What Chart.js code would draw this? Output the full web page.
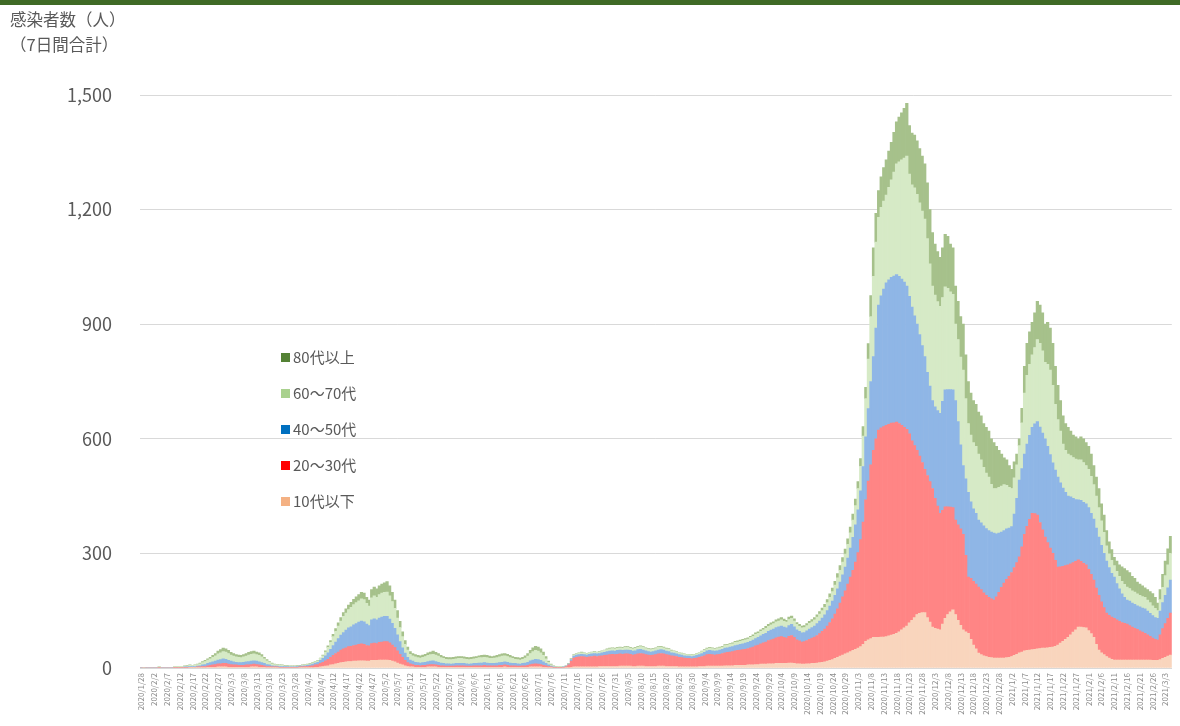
<!DOCTYPE html>
<html lang="ja">
<head>
<meta charset="utf-8">
<script src="https://cdn.jsdelivr.net/npm/chart.js@4.4.1/dist/chart.umd.min.js"></script>
<style>
    html, body { margin: 0; padding: 0; background: #fff; }
    #wrap { position: relative; width: 1180px; height: 726px; overflow: hidden; font-family: "Noto Sans CJK JP", sans-serif; }
    #topbar { position: absolute; left: 0; top: 0; width: 1180px; height: 5px; background: #3f6a26; }
    #ytitle { position: absolute; left: 10px; top: 7px; font-size: 16.5px; line-height: 25px; color: #595959; }
    #legend { position: absolute; left: 281px; top: 345px; font-size: 15px; color: #595959; }
    #legend div { height: 36px; line-height: 24px; white-space: nowrap; }
    #legend span { display: inline-block; width: 9px; height: 9px; margin-right: 3px; vertical-align: middle; position: relative; top: -1px; }
    canvas { position: absolute; left: 0; top: 0; }
</style>
</head>
<body>
<div id="wrap">
    <canvas id="ageChart" width="1180" height="726"></canvas>
    <div id="topbar"></div>
    <div id="ytitle">感染者数（人）<br>（7日間合計）</div>
    <div id="legend"></div>
</div>
<script>
// 7-day totals by age group, one value per day from 2020/1/28

var age10 = [
    0,0,0,0,0,0,0,0,0,0,
    0,0,0,0,0,0,0,0,0,1,
    1,1,1,1,1,1,2,2,2,2,
    3,3,3,3,2,2,2,2,2,2,
    2,2,2,3,3,3,2,2,2,1,
    1,1,1,1,0,0,0,0,0,0,
    0,0,1,1,1,1,1,1,2,2,
    3,4,5,6,8,9,11,12,14,15,
    16,17,17,18,18,19,19,19,18,18,
    20,20,20,21,21,21,21,20,18,16,
    13,10,8,6,4,3,3,2,2,2,
    2,2,3,3,3,3,2,2,2,2,
    2,2,2,2,2,2,2,2,2,2,
    2,2,2,2,2,2,2,2,2,2,
    2,2,3,2,2,2,2,2,2,2,
    2,2,3,3,3,3,3,2,2,1,
    1,0,0,0,0,0,1,1,2,3,
    3,3,3,3,3,3,3,3,3,4,
    4,4,4,4,4,4,4,5,5,5,
    5,5,4,4,5,5,5,4,4,4,
    4,4,5,5,5,4,4,4,4,4,
    3,3,3,3,3,3,3,3,4,4,
    4,5,5,5,5,5,5,5,6,6,
    6,6,7,7,7,7,7,8,8,8,
    9,9,10,10,10,11,11,11,12,12,
    12,12,12,13,13,12,11,11,10,10,
    11,11,12,12,13,14,15,16,18,20,
    22,25,28,31,34,37,40,43,46,49,
    52,56,62,70,74,77,80,80,80,81,
    81,82,84,86,88,91,95,100,105,110,
    118,125,132,140,143,145,145,132,120,107,
    104,102,100,115,130,140,147,152,140,125,
    112,100,95,91,75,60,50,39,35,32,
    30,28,27,26,26,26,26,26,27,28,
    30,33,36,40,42,45,46,47,48,49,
    50,51,52,52,53,54,55,57,60,65,
    70,75,80,87,94,100,107,107,106,105,
    98,90,80,62,47,40,35,30,26,23,
    21,21,21,21,21,21,21,21,21,21,
    21,21,21,21,21,20,20,20,22,25,
    28,31,34
];

var age20_30 = [
    0,0,0,0,0,0,0,1,0,0,
    0,0,0,1,1,1,1,1,1,1,
    1,1,2,2,3,3,4,5,6,7,
    8,8,9,9,8,7,6,6,5,5,
    5,6,6,6,7,6,6,5,4,3,
    3,2,2,2,2,2,2,2,2,2,
    2,2,2,2,3,3,4,5,6,7,
    9,11,14,17,20,24,27,30,33,35,
    37,39,40,41,42,43,44,43,41,40,
    44,45,44,46,47,48,48,46,42,38,
    32,26,20,14,10,8,6,5,5,4,
    5,5,5,6,6,5,5,4,4,3,
    3,3,3,4,4,4,4,3,3,3,
    4,4,4,4,5,4,4,4,4,4,
    5,5,5,5,4,4,4,3,3,4,
    4,5,6,7,8,7,6,5,4,3,
    2,1,1,1,1,2,3,7,16,23,
    25,26,27,26,25,26,27,28,27,27,
    28,29,30,31,32,31,32,32,31,32,
    32,31,30,31,32,33,32,31,30,29,
    30,31,32,33,32,31,30,28,27,26,
    25,24,23,22,22,21,22,23,24,26,
    28,30,31,30,29,30,31,33,34,35,
    36,37,38,39,40,41,42,43,45,47,
    49,51,53,56,58,61,63,65,67,69,
    70,68,66,70,72,68,63,60,58,59,
    61,64,66,69,72,76,81,86,92,99,
    107,116,127,139,152,165,180,195,210,228,
    250,280,320,370,415,455,490,520,543,548,
    551,553,554,555,554,553,545,535,525,515,
    495,470,450,430,412,393,375,372,368,363,
    340,322,305,298,292,282,274,268,247,250,
    252,250,200,147,160,167,170,173,170,165,
    160,157,154,152,160,172,185,196,205,212,
    220,230,240,251,275,305,325,342,357,355,
    350,330,310,291,275,260,245,225,204,200,
    196,193,190,186,182,179,176,172,168,165,
    160,155,150,147,143,133,123,114,112,110,
    109,105,101,98,96,94,90,86,83,80,
    76,73,70,66,62,58,55,53,65,78,
    88,99,110
];

var age40_50 = [
    1,0,1,1,1,1,1,1,1,1,
    1,1,1,1,1,1,1,2,2,2,
    2,2,2,3,4,5,6,7,8,9,
    10,11,12,11,10,9,8,7,7,7,
    8,8,9,9,9,9,8,7,6,5,
    4,3,2,2,2,2,2,2,1,1,
    1,2,2,2,2,3,3,4,5,6,
    8,10,13,17,21,26,30,35,39,43,
    46,49,51,54,56,58,60,59,56,53,
    62,64,62,64,65,66,66,62,57,50,
    42,33,25,19,14,10,9,8,7,7,
    7,8,9,9,10,9,8,7,6,6,
    6,5,6,6,6,6,6,6,5,6,
    6,6,7,7,7,7,6,6,6,7,
    7,8,8,8,7,6,6,6,5,6,
    7,8,10,11,12,12,11,9,6,4,
    2,2,1,1,1,1,1,2,4,5,
    6,6,6,6,6,7,7,7,7,7,
    8,8,9,9,9,9,10,10,10,10,
    10,10,10,10,11,11,10,10,9,9,
    9,10,10,10,10,9,9,8,8,7,
    7,7,6,6,6,6,6,7,7,8,
    9,10,10,10,10,10,11,11,12,12,
    13,13,14,14,15,15,16,16,17,18,
    19,20,21,22,23,24,25,26,27,27,
    28,27,27,28,29,28,26,25,24,24,
    25,27,28,29,31,33,35,37,40,43,
    46,49,52,55,58,62,68,76,86,98,
    112,128,145,165,190,218,245,290,327,345,
    360,373,378,382,384,386,385,383,380,375,
    360,350,340,330,318,306,295,270,250,230,
    240,250,262,285,306,307,308,308,313,270,
    220,180,200,222,200,190,185,175,175,175,
    175,175,175,175,165,155,145,138,132,126,
    120,140,168,201,205,210,215,220,225,235,
    245,250,253,257,252,245,237,236,236,220,
    205,192,180,175,168,162,157,160,160,160,
    162,160,160,157,153,148,142,136,125,115,
    108,95,85,75,68,63,64,63,63,62,
    63,63,64,62,60,59,57,57,62,68,
    74,80,86
];

var age60_70 = [
    0,1,0,1,1,1,1,1,1,1,
    1,1,1,1,1,2,2,2,3,3,
    2,3,4,5,6,8,9,10,12,14,
    16,18,19,19,18,16,15,14,14,13,
    14,15,17,18,18,17,17,15,12,10,
    7,5,4,3,3,3,2,2,2,2,
    2,2,1,2,2,2,3,3,3,4,
    5,7,10,14,18,23,28,33,37,42,
    45,48,51,53,55,56,58,58,54,51,
    58,60,59,61,63,63,64,61,57,52,
    44,37,29,23,19,15,14,14,13,13,
    14,15,16,17,17,17,16,14,13,12,
    11,12,12,12,13,13,12,12,12,12,
    12,13,14,14,14,14,13,13,14,14,
    15,16,16,15,14,13,11,11,11,11,
    13,16,19,22,23,22,20,17,12,7,
    3,2,1,1,1,1,1,1,2,3,
    3,4,4,4,3,3,4,4,4,4,
    4,5,5,6,6,6,6,6,6,7,
    7,6,6,7,7,7,7,6,6,6,
    6,6,7,7,6,6,6,5,5,5,
    4,4,4,4,4,4,4,4,4,5,
    5,5,6,6,5,6,6,6,7,7,
    7,7,8,8,8,9,9,9,10,10,
    11,11,12,12,13,13,14,14,15,15,
    16,15,15,16,16,15,14,13,13,13,
    14,15,15,16,17,18,19,20,21,23,
    25,27,29,31,33,34,36,40,45,50,
    56,64,80,100,130,170,210,225,230,232,
    230,230,242,255,272,290,300,312,325,340,
    320,320,335,340,345,352,360,350,320,300,
    292,285,280,272,270,265,256,250,200,215,
    230,250,210,180,175,173,175,173,165,153,
    145,140,125,117,119,120,120,120,114,107,
    100,95,88,90,120,160,180,186,190,200,
    215,219,215,200,215,221,203,172,150,135,
    115,110,110,108,107,106,105,106,104,100,
    100,97,90,84,77,64,55,40,36,34,
    30,32,33,33,34,34,33,32,32,31,
    30,30,30,29,28,26,24,20,30,40,
    52,60,70
];

var age80 = [
    0,0,0,0,0,0,0,0,0,0,
    0,0,0,0,0,0,0,1,1,1,
    0,1,1,2,3,3,3,4,5,6,
    7,8,9,8,8,7,7,6,6,6,
    6,7,7,7,7,7,7,6,4,3,
    2,2,1,1,1,1,1,1,1,1,
    1,1,1,1,1,1,1,1,1,1,
    1,2,3,4,5,6,7,8,9,10,
    11,12,13,14,15,16,17,17,16,16,
    21,23,22,23,24,25,27,26,24,22,
    19,16,13,10,8,7,6,6,6,6,
    6,6,7,7,8,7,7,6,5,5,
    5,5,5,5,5,5,5,5,5,5,
    5,5,5,6,6,6,6,5,5,6,
    6,6,6,6,6,5,5,5,5,5,
    6,7,8,10,11,11,10,9,6,3,
    2,1,1,0,0,0,0,1,1,1,
    1,1,2,1,1,1,1,1,1,1,
    1,1,2,2,2,2,2,2,2,2,
    2,2,2,2,2,2,2,2,2,2,
    2,2,2,2,2,2,2,2,1,1,
    1,1,1,1,1,1,1,1,1,1,
    2,2,2,2,2,2,2,2,2,2,
    2,3,3,3,3,3,3,3,3,4,
    4,4,4,4,5,5,5,5,5,6,
    6,6,5,6,6,6,5,5,5,5,
    5,5,6,6,6,7,7,8,8,9,
    9,10,11,12,12,13,14,15,16,17,
    18,20,25,30,40,55,75,75,70,80,
    88,92,95,98,104,110,117,123,130,138,
    127,135,138,140,142,144,145,146,142,140,
    134,131,128,130,137,136,125,122,100,100,
    106,120,115,110,110,110,110,110,115,115,
    120,120,119,120,110,97,84,70,67,57,
    50,42,28,18,38,70,84,85,85,91,
    100,100,100,100,110,110,110,100,90,80,
    74,70,70,64,59,58,55,60,62,60,
    60,58,50,50,50,45,45,40,31,28,
    22,27,30,38,41,43,42,38,36,31,
    30,28,25,27,29,32,29,20,26,34,
    38,42,45
];

var seriesNames = ["10代以下", "20～30代", "40～50代", "60～70代", "80代以上"];
var barColors = ["#f9d5bd", "#ff8585", "#8fb6e6", "#d6eac6", "#a6c18b"];
var legendColors = ["#f4b183", "#ff0000", "#0070c0", "#a9d18e", "#548235"];
var yTicks = [0, 300, 600, 900, 1200, 1500];

// day labels 2020/1/28, 2020/1/29 ...
var startDate = Date.UTC(2020, 0, 28);
var dayLabels = [];
for (var i = 0; i < age10.length; i++) {
    var d = new Date(startDate + i * 86400000);
    dayLabels.push(d.getUTCFullYear() + "/" + (d.getUTCMonth() + 1) + "/" + d.getUTCDate());
}

var allSeries = [age10, age20_30, age40_50, age60_70, age80];
var datasets = allSeries.map(function (vals, k) {
    return {
        label: seriesNames[k],
        data: vals,
        backgroundColor: barColors[k],
        borderWidth: 0,
        barPercentage: 1,
        categoryPercentage: 1
    };
});

var fontFamily = '"Noto Sans CJK JP", "Noto Sans", sans-serif';

new Chart("ageChart", {
    type: "bar",
    data: {
        labels: dayLabels,
        datasets: datasets
    },
    options: {
        responsive: false,
        animation: false,
        devicePixelRatio: 1,
        layout: {
            padding: { top: 95, right: 2, left: 0, bottom: 0 }
        },
        plugins: {
            legend: { display: false },
            tooltip: { enabled: false }
        },
        scales: {
            x: {
                stacked: true,
                grid: { display: false, drawTicks: false },
                border: { display: true, color: "#d9d9d9" },
                ticks: {
                    autoSkip: false,
                    minRotation: 90,
                    maxRotation: 90,
                    padding: 5,
                    color: "#8c8c8c",
                    font: { size: 8, family: fontFamily },
                    callback: function (value, index) {
                        return index % 5 === 0 ? this.getLabelForValue(value) : null;
                    }
                },
                afterFit: function (scale) { scale.height = 58; }
            },
            y: {
                stacked: true,
                min: yTicks[0],
                max: yTicks[yTicks.length - 1],
                afterBuildTicks: function (scale) {
                    scale.ticks = yTicks.map(function (v) { return { value: v }; });
                },
                ticks: {
                    padding: 28,
                    color: "#595959",
                    font: { size: 18, family: fontFamily },
                    callback: function (v) { return v.toLocaleString("en-US"); }
                },
                grid: { color: "#d9d9d9", drawTicks: false },
                border: { display: false },
                afterFit: function (scale) { scale.width = 140; }
            }
        }
    }
});

// legend inside the plot, top item is the top of the stack
var legendBox = document.getElementById("legend");
for (var k = seriesNames.length - 1; k >= 0; k--) {
    var row = document.createElement("div");
    var box = document.createElement("span");
    box.style.background = legendColors[k];
    row.appendChild(box);
    row.appendChild(document.createTextNode(seriesNames[k]));
    legendBox.appendChild(row);
}
</script>
</body>
</html>
